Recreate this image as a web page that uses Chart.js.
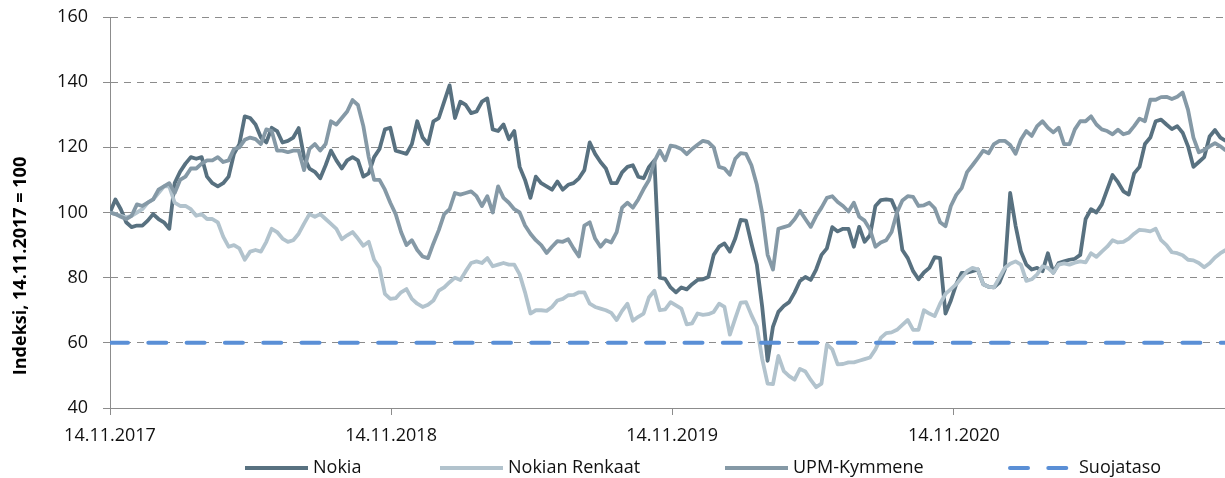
<!DOCTYPE html>
<html>
<head>
<meta charset="utf-8">
<script src="https://cdn.jsdelivr.net/npm/chart.js@4/dist/chart.umd.min.js"></script>
<style>
  body { margin: 0; background: #fff; }
  canvas { display: block; }
</style>
</head>
<body>
<canvas id="grafico-indeksi" width="1225" height="478"></canvas>
<script>
// one sample every 7 days, starting 14.11.2017
const paivaVali = 7;

const nokia = [100, 104, 101, 97, 95.5, 96, 96, 97.5, 99.5, 98,
  97, 95, 109, 112.5, 115, 117, 116.5, 117, 111, 109,
  108, 109, 111, 118, 121, 129.5, 129, 127, 123, 121.5,
  126, 125, 121.5, 122, 123, 125.9, 117, 113.5, 112.5, 110.5,
  114.5, 119, 116, 113.5, 116, 117, 116, 111, 112, 117,
  119.5, 125.5, 126, 119, 118.5, 118, 121, 128, 123, 121,
  128, 129, 134, 139, 129, 134, 133, 130.5, 131, 134,
  135, 125.5, 125, 127, 122.5, 125, 114, 110, 104.5, 111,
  109, 108, 107, 109.5, 107, 108.5, 109, 110.5, 113, 121.5,
  118, 115.5, 113.5, 109, 109, 112.3, 114, 114.5, 111, 110.5,
  114, 116, 80, 79.6, 77, 75.5, 77, 76.4, 78, 79.3,
  79.5, 80.2, 87, 89.5, 90.5, 88, 92, 97.7, 97.5, 90.5,
  84, 71, 54.5, 65, 69.5, 71.3, 72.5, 75.4, 79, 80.2,
  79.3, 82.5, 87, 89, 95.5, 94.2, 95, 95, 89.5, 95.6,
  91, 93, 102, 103.8, 104, 103.8, 100, 88.5, 86, 82,
  79.5, 81.6, 83, 86.3, 86, 69, 73, 78, 81.5, 81.5,
  82, 82.5, 78, 77.2, 77, 78.5, 82.5, 106, 96, 88,
  84, 82.5, 83, 82, 87.5, 81.5, 84.5, 85, 85.5, 85.8,
  87, 98, 101, 100, 102.5, 107, 111.5, 109.3, 106.5, 105.5,
  112, 114, 121, 123, 128, 128.5, 127, 125.6, 126.5, 124.5,
  120.3, 114, 115.5, 117, 123.3, 125.3, 123, 122, 122];

const nokianRenkaat = [100, 99.5, 99, 98.5, 99, 100, 101, 103, 104, 106,
  108, 108, 103, 102, 102, 101, 99, 99.5, 98, 98,
  97, 92.6, 89.5, 90, 89, 85.5, 88, 88.5, 88, 91,
  95, 94, 92, 91, 91.5, 93.5, 96.6, 99.5, 98.7, 99.5,
  98, 96.5, 95, 91.8, 93, 94, 92, 89.8, 91, 85.5,
  83, 75, 73.5, 73.7, 75.5, 76.5, 73.5, 72, 71, 71.7,
  73, 76, 77, 78.6, 80, 79.3, 82, 84.5, 85, 84.5,
  86, 83.5, 84, 84.5, 84, 84, 81, 75.5, 69, 70,
  70, 69.8, 71, 73, 73.5, 74.6, 74.7, 75.5, 75.5, 72,
  71, 70.5, 70, 69.2, 67, 69.8, 72, 66.8, 68, 69,
  74, 76, 70, 70.3, 72.5, 71.5, 70.5, 65.7, 66, 69,
  68.6, 68.8, 69.5, 72, 71, 62.5, 67.5, 72.3, 72.5, 68.5,
  65, 55, 47.5, 47.3, 56, 51.3, 49.8, 48.7, 52, 51.2,
  48.6, 46.4, 47.5, 59.5, 58, 53.4, 53.5, 54, 54, 54.5,
  55, 55.5, 58, 61.5, 63, 63.2, 64, 65.5, 67, 64,
  64, 70, 69, 68.2, 72, 75, 76.5, 78, 80, 82,
  83, 82.5, 78, 77.2, 77, 80, 83, 84.3, 85, 84,
  79, 79.5, 81, 83.5, 83, 81.5, 84, 84.4, 84, 84.6,
  85, 84.7, 87.5, 86.4, 88, 89.5, 91.5, 90.8, 91, 92,
  93.5, 94.7, 94.5, 94.2, 95, 91.5, 90, 87.8, 87.5, 86.9,
  85.5, 85.3, 84.5, 83.2, 84.4, 86.2, 87.5, 88.5, 88.5];

const upmKymmene = [100, 99.5, 98.7, 98, 99, 102.5, 102, 103, 104, 107,
  108, 109, 106, 110, 111, 113.5, 113.5, 115, 116, 116,
  117, 115.5, 116, 119.5, 120, 122.3, 123, 122.5, 121, 125.5,
  125, 119, 119, 118.5, 119, 119, 113, 119.5, 121, 119,
  121, 128, 127, 129, 131, 134.5, 133, 126.5, 117, 110,
  110, 107, 103, 99.5, 94, 90, 91.5, 88.5, 86.5, 86,
  90.5, 94.6, 99.5, 101, 106, 105.5, 106, 106.5, 105, 102,
  105, 100, 108, 104.5, 103, 101, 100, 96, 93.5, 91.5,
  90, 87.6, 89.5, 91.2, 91, 91.8, 89, 86.5, 96, 97,
  92, 89.5, 91.5, 90.8, 94, 101.5, 103, 101.5, 104, 107.2,
  110, 115.7, 119, 116, 120.5, 120.2, 119.5, 117.9, 119.5, 120.8,
  122, 121.6, 120, 114, 113.5, 111.6, 116.5, 118.2, 118, 114.5,
  108.5, 99.8, 87, 82.5, 95, 95.5, 96, 97.9, 100.5, 98,
  95.6, 98.9, 101.5, 104.5, 105, 103.2, 102, 100.3, 103, 98.7,
  97.5, 94.8, 89.5, 90.8, 91.5, 94, 100, 103.7, 105, 104.8,
  102, 102.2, 103, 101.3, 97, 95.8, 102, 105.4, 107.5, 112.4,
  114.5, 116.7, 119, 118.2, 121, 122, 122, 120.7, 118, 122.4,
  125, 123.5, 126.5, 128, 126, 124.6, 126, 121, 121, 125.5,
  128, 128, 129.5, 127, 125.5, 125, 124, 125.4, 124, 124.5,
  126.5, 128.8, 128, 134.6, 134.6, 135.4, 135.5, 134.8, 135.5, 136.8,
  131.5, 123, 118.5, 119.2, 120.3, 121.3, 120.3, 119, 119.5];

const suojataso = 60;

// days from 14.11.2017
const tickPaivat = [0, 365, 730, 1096];
const tickLabels = ['14.11.2017', '14.11.2018', '14.11.2019', '14.11.2020'];
const viimeinenPaiva = 1448;

const yOtsikko = 'Indeksi, 14.11.2017 = 100';

const fontti = '"Open Sans", "Noto Sans", sans-serif';
Chart.defaults.font.family = fontti;
Chart.defaults.font.size = 18;
Chart.defaults.color = '#111';

function pisteet(sarja) {
  return sarja.map((v, i) => ({ x: i * paivaVali, y: v }));
}

// y-axis title and the legend row are drawn by hand
const selitteenX = [245, 440, 725, 1008];

const lisat = {
  id: 'lisat',
  afterDraw(chart) {
    const ctx = chart.ctx;
    ctx.save();
    ctx.translate(21, 266);
    ctx.rotate(-Math.PI / 2);
    ctx.font = 'bold 18px ' + fontti;
    ctx.fillStyle = '#000';
    ctx.textAlign = 'center';
    ctx.textBaseline = 'middle';
    ctx.fillText(yOtsikko, 0, 0);
    ctx.restore();

    ctx.save();
    ctx.font = '18px ' + fontti;
    ctx.textBaseline = 'middle';
    ctx.fillStyle = '#111';
    const y = 468;
    chart.data.datasets.forEach((ds, i) => {
      const x = selitteenX[i];
      ctx.strokeStyle = ds.borderColor;
      ctx.lineWidth = 4;
      ctx.beginPath();
      if (ds.borderDash) {
        ctx.setLineDash(ds.borderDash);
        ctx.lineCap = 'round';
        ctx.moveTo(x + 2, y);
        ctx.lineTo(x + 61, y);
      } else {
        ctx.setLineDash([]);
        ctx.lineCap = 'butt';
        ctx.moveTo(x, y);
        ctx.lineTo(x + 63, y);
      }
      ctx.stroke();
      ctx.fillText(ds.label, ds.borderDash ? x + 71 : x + 68, y);
    });
    ctx.restore();
  }
};

const ctx = document.getElementById('grafico-indeksi').getContext('2d');

new Chart(ctx, {
  type: 'line',
  data: {
    datasets: [
      { label: 'Nokia', data: pisteet(nokia), borderColor: '#587180', order: 3 },
      { label: 'Nokian Renkaat', data: pisteet(nokianRenkaat), borderColor: '#b2c3cd', order: 2 },
      { label: 'UPM-Kymmene', data: pisteet(upmKymmene), borderColor: '#8599a6', order: 1 },
      {
        label: 'Suojataso',
        data: [{ x: 0, y: suojataso }, { x: viimeinenPaiva + paivaVali, y: suojataso }],
        borderColor: '#5a8fd6',
        borderWidth: 4,
        borderDash: [18, 20.3],
        borderCapStyle: 'round',
        order: 0
      }
    ]
  },
  options: {
    responsive: false,
    animation: false,
    layout: { padding: { top: 17, right: 0, bottom: 0, left: 0 } },
    elements: {
      point: { radius: 0 },
      line: { borderWidth: 3.8, tension: 0, borderJoinStyle: 'round', fill: false }
    },
    plugins: {
      legend: { display: false },
      tooltip: { enabled: false }
    },
    scales: {
      x: {
        type: 'linear',
        min: 0,
        max: viimeinenPaiva,
        afterBuildTicks: scale => {
          scale.ticks = tickPaivat.map(v => ({ value: v }));
        },
        afterFit: scale => { scale.height = 70; },
        ticks: {
          autoSkip: false,
          maxRotation: 0,
          padding: 10,
          callback: (value, index) => tickLabels[index]
        },
        grid: { drawOnChartArea: false, tickLength: 7, color: '#8c8c8c' },
        border: { color: '#8c8c8c' }
      },
      y: {
        min: 40,
        max: 160,
        afterFit: scale => {
          scale.width = 110;
          scale.paddingTop = 0;
          scale.paddingBottom = 0;
        },
        ticks: { stepSize: 20, padding: 15 },
        grid: {
          color: c => c.tick.value === 40 ? 'rgba(0,0,0,0)' : '#8c8c8c',
          tickColor: '#8c8c8c',
          tickLength: 7
        },
        border: { color: '#8c8c8c', dash: [7, 6] }
      }
    }
  },
  plugins: [lisat]
});
</script>
</body>
</html>
